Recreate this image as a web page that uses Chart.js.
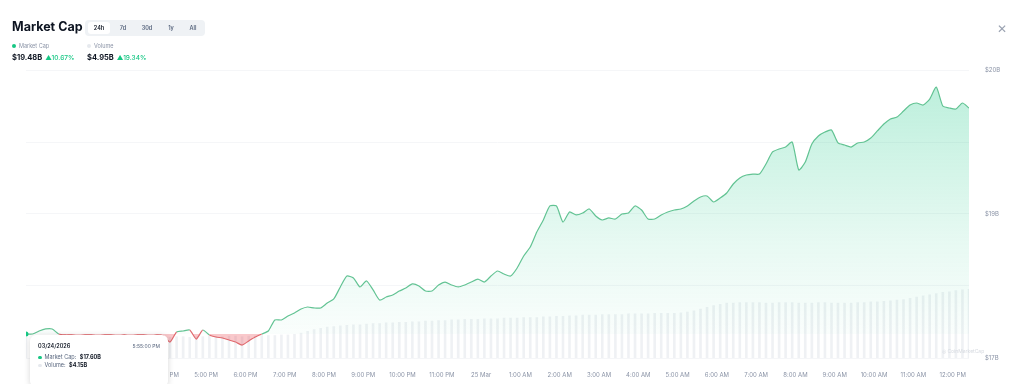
<!DOCTYPE html>
<html>
<head>
<meta charset="utf-8">
<script src="https://cdn.jsdelivr.net/npm/chart.js@4"></script>
<style>
  body { margin: 0; background: #fff; font-family: Inter, "Noto Sans", sans-serif; }
  #wrap { position: relative; width: 1024px; height: 384px; overflow: hidden; }
  #chartBox { position: absolute; left: 0; top: 0; width: 1024px; height: 384px; }
  .title { position: absolute; left: 12px; top: 19px; font-size: 12.5px; font-weight: 700; color: #0d1421; }
  .tabs { position: absolute; left: 85px; top: 20px; width: 120px; height: 16px; background: #eff2f5; border-radius: 4px; }
  .tabs span { position: absolute; top: 0; height: 16px; line-height: 16px; font-size: 5.5px; font-weight: 600; color: #58667e; text-align: center; width: 22px; }
  .tabs span.on { background: #fff; color: #0d1421; border-radius: 3px; top: 2px; height: 12px; line-height: 12px; }
  .leg { position: absolute; top: 43px; font-size: 5.5px; color: #8a93a6; }
  .leg i { display: inline-block; width: 4px; height: 4px; border-radius: 50%; margin-right: 3px; vertical-align: 0; }
  .val { position: absolute; top: 53px; font-size: 7.5px; font-weight: 700; color: #0d1421; }
  .val b { color: #16c784; font-weight: 500; font-size: 6.5px; margin-left: 3px; }
  .close { position: absolute; left: 997px; top: 21px; font-size: 12px; color: #9aa2b1; font-weight: 300; }
  #tip { position: absolute; left: 30px; top: 335px; width: 138px; height: 52px; background: #fff; border-radius: 6px; box-shadow: 0 1px 6px rgba(0,0,0,0.16); font-size: 5.5px; color: #58667e; }
  #tip .d { position: absolute; left: 8px; top: 8px; color: #0d1421; font-weight: 600; }
  #tip .t { position: absolute; right: 8px; top: 8px; font-size: 5px; }
  #tip .r { position: absolute; left: 8px; }
  #tip .r i { display: inline-block; width: 3.5px; height: 3.5px; border-radius: 50%; margin-right: 3px; }
  #tip .r b { color: #0d1421; margin-left: 2px; }
  .mark { position: absolute; left: 942px; top: 348px; font-size: 5px; color: #d6dae0; }
</style>
</head>
<body>
<div id="wrap">
  <div id="chartBox"><canvas id="chart"></canvas></div>
  <div class="title">Market Cap</div>
  <div class="tabs">
    <span class="on" style="left:3px">24h</span>
    <span style="left:27px">7d</span>
    <span style="left:51px">30d</span>
    <span style="left:75px">1y</span>
    <span style="left:97px">All</span>
  </div>
  <div class="leg" style="left:12px"><i style="background:#16c784"></i>Market Cap</div>
  <div class="leg" style="left:87px"><i style="background:#e6e9ee"></i>Volume</div>
  <div class="val" style="left:12px" id="capVal"></div>
  <div class="val" style="left:87px" id="volVal"></div>
  <div class="close">&#x2715;</div>
  <div class="mark">&#x25CE; CoinMarketCap</div>
  <div id="tip">
    <div class="d">03/24/2026</div>
    <div class="t">5:55:00 PM</div>
    <div class="r" style="top:19px"><i style="background:#16c784"></i>Market Cap: <b id="tipCap"></b></div>
    <div class="r" style="top:27px"><i style="background:#e6e9ee"></i>Volume: <b id="tipVol"></b></div>
  </div>
</div>
<script>
// time grid: minutes from 00:00 on 24 Mar, one point every 10 min
const startMinute = 745;
const stepMinutes = 10;

// market cap in $B
const marketCap = [
  17.60, 17.60, 17.625, 17.642, 17.642, 17.60, 17.592, 17.592, 17.583, 17.592,
  17.592, 17.583, 17.592, 17.592, 17.583, 17.592, 17.583, 17.592, 17.592, 17.583,
  17.592, 17.583, 17.533, 17.617, 17.625, 17.633, 17.558, 17.633, 17.592, 17.575,
  17.567, 17.55, 17.533, 17.508, 17.542, 17.575, 17.60, 17.625, 17.717, 17.717,
  17.75, 17.775, 17.808, 17.825, 17.817, 17.817, 17.858, 17.892, 17.992, 18.083,
  18.067, 17.992, 18.042, 17.967, 17.883, 17.908, 17.925, 17.958, 17.983, 18.017,
  18.00, 17.958, 17.958, 18.008, 18.033, 18.008, 17.992, 18.008, 18.033, 18.058,
  18.033, 18.083, 18.125, 18.10, 18.083, 18.15, 18.25, 18.325, 18.45, 18.55,
  18.667, 18.667, 18.533, 18.617, 18.592, 18.608, 18.642, 18.583, 18.55, 18.567,
  18.558, 18.60, 18.608, 18.667, 18.633, 18.558, 18.558, 18.592, 18.617, 18.633,
  18.642, 18.667, 18.708, 18.742, 18.75, 18.70, 18.733, 18.775, 18.85, 18.90,
  18.925, 18.933, 18.933, 19.017, 19.117, 19.142, 19.158, 19.20, 18.967, 19.033,
  19.183, 19.25, 19.283, 19.30, 19.192, 19.175, 19.158, 19.192, 19.20, 19.233,
  19.292, 19.35, 19.392, 19.408, 19.458, 19.508, 19.525, 19.508, 19.558, 19.658,
  19.50, 19.483, 19.475, 19.525, 19.483
];

// 24h volume in $B
const volume = [
  4.15, 4.15, 4.14, 4.14, 4.15, 4.15, 4.16, 4.15, 4.15, 4.16,
  4.15, 4.15, 4.16, 4.16, 4.15, 4.15, 4.16, 4.16, 4.15, 4.16,
  4.16, 4.16, 4.15, 4.16, 4.16, 4.15, 4.16, 4.16, 4.17, 4.16,
  4.16, 4.17, 4.17, 4.16, 4.17, 4.17, 4.18, 4.18, 4.18, 4.19,
  4.19, 4.20, 4.22, 4.25, 4.28, 4.30, 4.32, 4.33, 4.34, 4.35,
  4.36, 4.36, 4.37, 4.38, 4.38, 4.39, 4.39, 4.40, 4.40, 4.41,
  4.41, 4.42, 4.42, 4.43, 4.43, 4.44, 4.44, 4.45, 4.45, 4.45,
  4.46, 4.46, 4.46, 4.47, 4.47, 4.47, 4.48, 4.48, 4.48, 4.49,
  4.49, 4.50, 4.50, 4.51, 4.51, 4.52, 4.52, 4.52, 4.53, 4.53,
  4.53, 4.53, 4.54, 4.54, 4.54, 4.54, 4.55, 4.55, 4.55, 4.55,
  4.56, 4.57, 4.59, 4.62, 4.65, 4.68, 4.70, 4.72, 4.72, 4.73,
  4.73, 4.73, 4.73, 4.72, 4.72, 4.73, 4.73, 4.73, 4.72, 4.72,
  4.72, 4.73, 4.73, 4.72, 4.72, 4.72, 4.72, 4.73, 4.73, 4.74,
  4.74, 4.75, 4.76, 4.77, 4.78, 4.80, 4.82, 4.84, 4.86, 4.88,
  4.90, 4.91, 4.93, 4.94, 4.95
];

// header figures
const headerCap = "$19.48B", headerCapChg = "10.67%";
const headerVol = "$4.95B", headerVolChg = "19.34%";

// x tick hours (minutes from 00:00 on 24 Mar)
const tickMinutes = [];
for (let m = 780; m <= 2160; m += 60) tickMinutes.push(m);

const GREEN = "#16c784";
const LINE_GREEN = "#62c393";
const LINE_RED = "#e06a6f";
const base = marketCap[0];

document.getElementById("capVal").innerHTML = headerCap + "<b>&#x25B2;" + headerCapChg + "</b>";
document.getElementById("volVal").innerHTML = headerVol + "<b>&#x25B2;" + headerVolChg + "</b>";
document.getElementById("tipCap").innerText = "$" + marketCap[0].toFixed(2) + "B";
document.getElementById("tipVol").innerText = "$" + volume[0].toFixed(2) + "B";

function fmtTime(m) {
  if (m === 1440) return "25 Mar";
  let h = Math.floor(m / 60) % 24;
  let ap = h >= 12 ? "PM" : "AM";
  let hh = h % 12 === 0 ? 12 : h % 12;
  return hh + ":00 " + ap;
}

const capPoints = marketCap.map((v, i) => ({ x: startMinute + i * stepMinutes, y: v }));
const volPoints = volume.map((v, i) => ({ x: startMinute + i * stepMinutes, y: v }));

const canvas = document.getElementById("chart");
const ctx = canvas.getContext("2d");
const grad = ctx.createLinearGradient(0, 70, 0, 358);
grad.addColorStop(0, "rgba(22,199,132,0.30)");
grad.addColorStop(0.6, "rgba(22,199,132,0.10)");
grad.addColorStop(1, "rgba(22,199,132,0.0)");

new Chart(canvas, {
  data: {
    datasets: [
      {
        type: "line",
        data: capPoints,
        yAxisID: "y",
        order: 1,
        borderWidth: 1.2,
        tension: 0.2,
        borderColor: LINE_GREEN,
        segment: {
          borderColor: c => (c.p0.parsed.y + c.p1.parsed.y) / 2 < base ? LINE_RED : LINE_GREEN
        },
        pointRadius: c => c.dataIndex === 0 ? 2.5 : 0,
        pointBackgroundColor: GREEN,
        pointBorderWidth: 0,
        fill: { target: { value: base }, above: grad, below: "rgba(234,57,67,0.28)" }
      },
      {
        type: "bar",
        data: volPoints,
        yAxisID: "y2",
        order: 2,
        backgroundColor: "rgba(214,218,225,0.38)",
        barPercentage: 0.4,
        categoryPercentage: 1
      }
    ]
  },
  options: {
    responsive: true,
    maintainAspectRatio: false,
    animation: false,
    layout: { padding: { left: 26, top: 70, right: 0, bottom: 0 } },
    plugins: { legend: { display: false }, tooltip: { enabled: false } },
    scales: {
      x: {
        type: "linear",
        offset: false,
        min: startMinute,
        max: startMinute + (marketCap.length - 1) * stepMinutes,
        grid: { display: false },
        border: { display: false },
        afterBuildTicks: s => { s.ticks = tickMinutes.map(v => ({ value: v })); },
        afterFit: s => { s.height = 26; s.paddingLeft = 0; s.paddingRight = 0; },
        ticks: {
          autoSkip: false,
          maxRotation: 0,
          padding: 6,
          color: "#8a93a6",
          font: { family: "Inter", size: 6 },
          callback: v => fmtTime(v)
        }
      },
      y: {
        position: "right",
        min: 17.4,
        max: 19.8,
        grid: { color: "#f5f6f8", drawTicks: false },
        border: { display: false },
        afterFit: s => { s.width = 55; },
        ticks: {
          stepSize: 0.6,
          padding: 16,
          color: "#8a93a6",
          font: { family: "Inter", size: 6 },
          callback: (v, i) => i % 2 === 0 ? "$" + Math.round(v) + "B" : ""
        }
      },
      y2: { display: false, min: 3.8, max: 8.6 }
    }
  }
});
</script>
</body>
</html>
